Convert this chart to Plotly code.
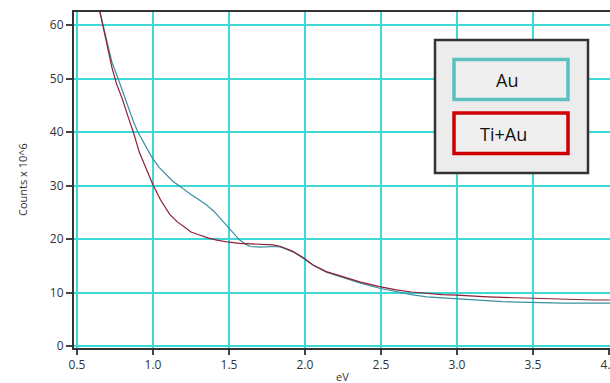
import plotly.graph_objects as go

# Au (teal) series
au_x = [0.65, 0.67, 0.70, 0.73, 0.77, 0.80, 0.83, 0.87, 0.90, 0.95, 0.99, 1.04, 1.09, 1.13, 1.19, 1.24, 1.30, 1.35, 1.40, 1.44, 1.50, 1.54, 1.57, 1.61, 1.64, 1.70, 1.76, 1.82, 1.86, 1.92, 1.96, 2.00, 2.06, 2.14, 2.25, 2.36, 2.49, 2.60, 2.70, 2.80, 2.90, 3.00, 3.10, 3.20, 3.30, 3.40, 3.50, 3.60, 3.70, 3.80, 3.90, 4.01]
au_y = [62.5, 60.0, 56.5, 53.0, 50.0, 47.5, 45.0, 42.0, 40.0, 37.5, 35.4, 33.4, 31.9, 30.8, 29.6, 28.5, 27.4, 26.4, 25.2, 23.9, 22.0, 20.7, 19.8, 19.0, 18.6, 18.5, 18.6, 18.6, 18.3, 17.6, 16.9, 16.2, 15.0, 13.8, 12.8, 11.8, 10.8, 10.1, 9.6, 9.2, 9.0, 8.8, 8.6, 8.5, 8.3, 8.2, 8.1, 8.1, 8.0, 8.0, 8.0, 8.0]

# Ti+Au (maroon) series
tiau_x = [0.65, 0.67, 0.70, 0.73, 0.76, 0.80, 0.84, 0.87, 0.91, 0.96, 1.00, 1.05, 1.11, 1.16, 1.20, 1.25, 1.31, 1.36, 1.42, 1.50, 1.57, 1.65, 1.72, 1.79, 1.84, 1.88, 1.92, 1.99, 2.05, 2.14, 2.25, 2.36, 2.49, 2.60, 2.70, 2.80, 2.90, 3.00, 3.10, 3.20, 3.30, 3.40, 3.50, 3.60, 3.70, 3.80, 3.90, 4.01]
tiau_y = [62.5, 60.0, 56.0, 52.0, 49.0, 46.0, 42.5, 40.0, 36.2, 33.0, 30.1, 27.3, 24.6, 23.2, 22.3, 21.3, 20.7, 20.2, 19.8, 19.4, 19.2, 19.1, 19.0, 18.9, 18.6, 18.2, 17.7, 16.5, 15.2, 13.9, 13.0, 12.0, 11.1, 10.5, 10.1, 9.8, 9.6, 9.5, 9.3, 9.2, 9.1, 9.0, 8.9, 8.8, 8.7, 8.6, 8.6, 8.6]

x_ticks = [0.5, 1.0, 1.5, 2.0, 2.5, 3.0, 3.5, 4.0]
x_tick_labels = ["0.5", "1.0", "1.5", "2.0", "2.5", "3.0", "3.5", "4.0"]
y_ticks = [0, 10, 20, 30, 40, 50, 60]
legend_labels = ["Au", "Ti+Au"]

AU_COLOR = "#3a8fa0"
TIAU_COLOR = "#8c1f35"
GRID = "#3fd8d8"
FONT = "Open Sans, Noto Sans, sans-serif"

fig = go.Figure()
fig.add_trace(go.Scatter(x=au_x, y=au_y, mode="lines", name=legend_labels[0],
                         line=dict(color=AU_COLOR, width=1.2)))
fig.add_trace(go.Scatter(x=tiau_x, y=tiau_y, mode="lines", name=legend_labels[1],
                         line=dict(color=TIAU_COLOR, width=1.2)))

fig.update_layout(
    width=610, height=383,
    margin=dict(l=74, r=0, t=12, b=35, autoexpand=False),
    paper_bgcolor="white", plot_bgcolor="white",
    showlegend=False,
    font=dict(family=FONT, size=12, color="#333"),
)
fig.update_xaxes(
    range=[0.48, 4.0066], tickvals=x_ticks, ticktext=x_tick_labels,
    showgrid=True, gridcolor=GRID, gridwidth=2,
    showline=True, linecolor="#333", linewidth=2, mirror=True,
    ticks="outside", ticklen=5, tickcolor="#444", tickwidth=1.5,
    zeroline=False, tickfont=dict(size=12, color="#333"), automargin=False,
    ticklabeloverflow="allow",
)
fig.update_yaxes(
    range=[-0.37, 62.43], tickvals=y_ticks,
    showgrid=True, gridcolor=GRID, gridwidth=2,
    showline=True, linecolor="#333", linewidth=2,
    ticks="outside", ticklen=6, tickcolor="#444", tickwidth=1.5,
    zeroline=False, tickfont=dict(size=12, color="#333"), automargin=False,
)

# axis titles
fig.add_annotation(text="Counts x 10^6", xref="paper", yref="paper", x=-0.097, y=0.5,
                   textangle=-90, showarrow=False, font=dict(size=11, color="#333"),
                   xanchor="center", yanchor="middle")
fig.add_annotation(text="eV", xref="paper", yref="paper", x=0.5, y=-0.085,
                   showarrow=False, font=dict(size=11, color="#333"),
                   xanchor="center", yanchor="middle")

# custom legend
def px_x(p):
    return (p - 74) / 536

def px_y(p):
    return (348 - p) / 336

fig.add_shape(type="rect", xref="paper", yref="paper",
              x0=px_x(435), x1=px_x(588), y0=px_y(173), y1=px_y(40),
              fillcolor="#ececec", line=dict(color="#333", width=2.5), layer="above")
fig.add_shape(type="rect", xref="paper", yref="paper",
              x0=px_x(454), x1=px_x(568), y0=px_y(99.5), y1=px_y(59.5),
              fillcolor="#efefef", line=dict(color="#5cc0c0", width=3.5), layer="above")
fig.add_shape(type="rect", xref="paper", yref="paper",
              x0=px_x(454), x1=px_x(568), y0=px_y(153.5), y1=px_y(113),
              fillcolor="#efefef", line=dict(color="#d00000", width=3.5), layer="above")
fig.add_annotation(text=legend_labels[0], xref="paper", yref="paper",
                   x=px_x(507), y=px_y(80), showarrow=False,
                   font=dict(size=18, color="#111"), xanchor="center", yanchor="middle")
fig.add_annotation(text=legend_labels[1], xref="paper", yref="paper",
                   x=px_x(503), y=px_y(134), showarrow=False,
                   font=dict(size=18, color="#111"), xanchor="center", yanchor="middle")

fig.write_html("out.html", config={"displayModeBar": False},
               post_script="document.body.style.margin='0';document.body.style.overflow='hidden';")
